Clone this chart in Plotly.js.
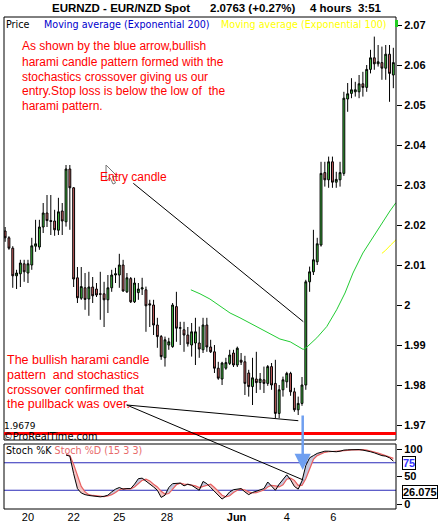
<!DOCTYPE html>
<html><head><meta charset="utf-8">
<script src="https://cdn.plot.ly/plotly-3.0.1.min.js"></script>
<style>html,body{margin:0;padding:0;background:#fff}#chart{width:440px;height:529px}</style>
</head><body><div id="chart"></div>
<script>
// ---- data ----
const candleOpen  = [2.0185,2.0168,2.0142,2.0073,2.0078,2.0103,2.0080,2.0100,2.0147,2.0145,2.0195,2.0230,2.0211,2.0210,2.0187,2.0235,2.0208,2.0340,2.0293,2.0068,2.0017,2.0043,2.0015,2.0045,2.0040,2.0028,2.0028,2.0013,2.0043,2.0075,2.0075,2.0100,2.0033,2.0066,2.0008,2.0031,2.0040,2.0038,2.0003,2.0000,1.9950,1.9921,1.9868,1.9900,1.9896,1.9996,1.9942,1.9938,1.9925,1.9900,1.9905,1.9905,1.9888,1.9950,1.9895,1.9883,1.9842,1.9815,1.9842,1.9854,1.9880,1.9850,1.9862,1.9858,1.9830,1.9796,1.9815,1.9806,1.9813,1.9804,1.9846,1.9804,1.9729,1.9788,1.9808,1.9829,1.9783,1.9738,1.9754,1.9800,2.0058,2.0083,2.0108,2.0150,2.0331,2.0313,2.0358,2.0307,2.0313,2.0329,2.0515,2.0529,2.0533,2.0533,2.0553,2.0544,2.0589,2.0618,2.0603,2.0606,2.0592,2.0627,2.0575];
const candleHigh  = [2.0195,2.0172,2.0147,2.0088,2.0113,2.0113,2.0113,2.0168,2.0213,2.0213,2.0255,2.0275,2.0275,2.0238,2.0268,2.0255,2.0350,2.0350,2.0295,2.0095,2.0095,2.0080,2.0083,2.0070,2.0055,2.0083,2.0058,2.0075,2.0088,2.0093,2.0128,2.0113,2.0080,2.0070,2.0068,2.0055,2.0068,2.0046,2.0013,2.0013,1.9968,1.9925,1.9921,1.9918,2.0005,2.0033,1.9958,1.9958,1.9945,1.9955,1.9968,1.9946,1.9968,1.9968,1.9913,1.9900,1.9858,1.9858,1.9868,1.9888,1.9888,1.9896,1.9880,1.9873,1.9838,1.9868,1.9883,1.9830,1.9846,1.9850,1.9855,1.9863,1.9800,1.9821,1.9833,1.9833,1.9793,1.9771,1.9820,2.0063,2.0096,2.0188,2.0168,2.0358,2.0358,2.0371,2.0371,2.0333,2.0358,2.0533,2.0555,2.0567,2.0558,2.0575,2.0583,2.0600,2.0638,2.0671,2.0650,2.0646,2.0650,2.0650,2.0643];
const candleLow   = [2.0158,2.0138,2.0043,2.0040,2.0045,2.0058,2.0055,2.0088,2.0133,2.0138,2.0180,2.0195,2.0175,2.0173,2.0175,2.0175,2.0196,2.0188,2.0045,2.0005,2.0013,1.9988,1.9973,2.0005,2.0020,1.9963,1.9945,1.9980,2.0033,2.0055,2.0043,2.0033,2.0030,2.0005,2.0005,2.0013,2.0025,1.9933,1.9945,1.9925,1.9893,1.9863,1.9846,1.9888,1.9893,1.9908,1.9900,1.9883,1.9896,1.9871,1.9850,1.9868,1.9880,1.9883,1.9880,1.9830,1.9813,1.9800,1.9838,1.9850,1.9845,1.9845,1.9850,1.9775,1.9771,1.9750,1.9780,1.9788,1.9780,1.9798,1.9788,1.9717,1.9717,1.9771,1.9793,1.9773,1.9733,1.9725,1.9748,1.9788,2.0033,2.0075,2.0100,2.0146,2.0296,2.0293,2.0293,2.0293,2.0296,2.0323,2.0483,2.0517,2.0521,2.0517,2.0521,2.0533,2.0579,2.0588,2.0596,2.0563,2.0563,2.0508,2.0542];
const candleClose = [2.0168,2.0142,2.0073,2.0080,2.0105,2.0083,2.0103,2.0148,2.0153,2.0195,2.0230,2.0211,2.0209,2.0188,2.0233,2.0210,2.0340,2.0293,2.0065,2.0018,2.0046,2.0014,2.0045,2.0023,2.0025,2.0027,2.0013,2.0043,2.0075,2.0078,2.0100,2.0035,2.0068,2.0008,2.0055,2.0040,2.0043,1.9998,2.0000,1.9950,1.9921,1.9871,1.9913,1.9908,2.0000,1.9942,1.9943,1.9925,1.9903,1.9933,1.9933,1.9890,1.9950,1.9895,1.9883,1.9842,1.9817,1.9855,1.9856,1.9875,1.9850,1.9892,1.9857,1.9804,1.9796,1.9818,1.9806,1.9815,1.9804,1.9846,1.9800,1.9729,1.9788,1.9813,1.9829,1.9783,1.9738,1.9754,1.9800,2.0058,2.0083,2.0113,2.0153,2.0329,2.0313,2.0358,2.0307,2.0314,2.0331,2.0517,2.0528,2.0538,2.0538,2.0553,2.0544,2.0589,2.0618,2.0603,2.0608,2.0592,2.0627,2.0579,2.0606];

const tickIdx    = [6, 18, 30, 42.5, 60.8, 74, 86.2];
const tickLabels = ['20', '22', '25', '28', '<b>Jun</b>', '4', '6'];
const priceTicks = [1.97,1.98,1.99,2.00,2.01,2.02,2.03,2.04,2.05,2.06,2.07];
const priceTickLabels = ['1.97','1.98','1.99','2','2.01','2.02','2.03','2.04','2.05','2.06','2.07'];

const emaIdx = [48.8,51.2,53.8,56.5,59.1,61.7,64.3,67.0,69.6,72.2,74.9,76.7,78.3,79.3,81.9,84.5,87.1,89.3,91.4,94.0,96.7,98.5,101.1,102.7];
const emaVal = [2.0038,2.0028,2.0015,1.9998,1.9980,1.9968,1.9955,1.9943,1.9930,1.9915,1.9908,1.9898,1.9889,1.9895,1.9918,1.9946,1.9988,2.0030,2.0080,2.0130,2.0171,2.0195,2.0235,2.0256];
const ema2Idx = [99.0, 100.0, 101.3, 102.7];
const ema2Val = [2.0129, 2.0137, 2.0150, 2.0163];

const stopLoss = 1.9679;

const stochStart = 16;
const stochK = [89,87,55,28,20,17,15.5,14.5,13,13,14,16,22,27,30,27,28,28,36,46,47,42,36,31,25,12,16,30,37,38,38,33,36,34,30,25,41,37,30,23,17,9,14,22,26,27,28,22,17,21,23,25,28,40,33,25,36,45,53,44,32,27,42,70,84,88,92,94,96,96,95,95,96,98,98.5,99,99,99,98,97,95,93,90,88,87,84,78];
const stochD = [90,88,72,50,32,22,17,15.5,14.5,13.5,13.5,14.5,17,21,26,28,28,27.5,31,37,43,45,42,36,31,23,18,19,28,35,38,36,35.5,34.5,33,30,32,34.5,36,30,23,16,13,15,21,25,27,25.5,22,20,20.5,23,25.5,31,34,33,31,35,45,47,43,34,34,46,65,81,88,91,94,95,95.5,95.5,95.5,96.5,97.5,98.5,99,99,98.7,98,96.7,95,92.7,90.3,88.3,86.3,83];
const stochLevels = [75, 25];
const stochTicks = [0, 50, 100];

// ---- layout helpers ----
const W = 440, H = 529, ML = 4, MR = 44, MT = 17, MB = 20;
const PX = x => (x - ML) / (W - ML - MR);
const PY = y => (H - MB - y) / (H - MT - MB);

const candleIdx = candleOpen.map((_, i) => i);
const stochIdx = stochK.map((_, i) => i + stochStart);
const hiKD = stochK.map((k, i) => Math.max(k, stochD[i]));
const loKD = stochK.map((k, i) => Math.min(k, stochD[i]));

const traces = [
  {type:'candlestick', x:candleIdx, open:candleOpen, high:candleHigh, low:candleLow, close:candleClose,
   xaxis:'x', yaxis:'y', whiskerwidth:0, hoverinfo:'none',
   increasing:{line:{color:'#000', width:1}, fillcolor:'#3fc43f'},
   decreasing:{line:{color:'#000', width:1}, fillcolor:'#d06464'}},
  {type:'scatter', mode:'lines', x:emaIdx, y:emaVal, xaxis:'x', yaxis:'y', line:{color:'#22cc33', width:1}, hoverinfo:'none'},
  {type:'scatter', mode:'lines', x:ema2Idx, y:ema2Val, xaxis:'x', yaxis:'y', line:{color:'#ffff00', width:1}, hoverinfo:'none'},
  {type:'scatter', mode:'lines', x:stochIdx, y:stochD, xaxis:'x', yaxis:'y2', line:{width:0, color:'rgba(0,0,0,0)'}, hoverinfo:'none'},
  {type:'scatter', mode:'lines', x:stochIdx, y:hiKD, xaxis:'x', yaxis:'y2', fill:'tonexty', fillcolor:'#c3c7dd', line:{width:0, color:'rgba(0,0,0,0)'}, hoverinfo:'none'},
  {type:'scatter', mode:'lines', x:stochIdx, y:stochD, xaxis:'x', yaxis:'y2', line:{width:0, color:'rgba(0,0,0,0)'}, hoverinfo:'none'},
  {type:'scatter', mode:'lines', x:stochIdx, y:loKD, xaxis:'x', yaxis:'y2', fill:'tonexty', fillcolor:'#f3c6c6', line:{width:0, color:'rgba(0,0,0,0)'}, hoverinfo:'none'},
  {type:'scatter', mode:'lines', x:stochIdx, y:stochD, xaxis:'x', yaxis:'y2', line:{color:'#e86060', width:1.2}, hoverinfo:'none'},
  {type:'scatter', mode:'lines', x:stochIdx, y:stochK, xaxis:'x', yaxis:'y2', line:{color:'#000', width:1}, hoverinfo:'none'}
];

const AR = "Liberation Sans, Arial, sans-serif";
const DV = "DejaVu Sans, Verdana, sans-serif";
function txt(text, x, y, font, extra) {
  return Object.assign({text:text, xref:'paper', yref:'paper', x:PX(x), y:PY(y), xanchor:'left', yanchor:'middle',
    showarrow:false, font:font, borderpad:0}, extra || {});
}
const red12 = {family:AR, size:12, color:'#ff0000'};
const red125 = {family:AR, size:12.5, color:'#ff0000'};
const titleFont = {family:AR, size:11.5, color:'#000', weight:'bold'};
const legFont = s => ({family:DV, size:9.6, color:s});

const annotations = [
  txt('<b>EURNZD - EUR/NZD Spot</b>', 120.5, 8.5, titleFont, {xanchor:'center'}),
  txt('<b>2.0763 (+0.27%)</b>', 253, 8.5, titleFont, {xanchor:'center'}),
  txt('<b>4 hours  3:51</b>', 346, 8.5, titleFont, {xanchor:'center'}),
  txt('Price', 5, 24, legFont('#000')),
  txt('Moving average (Exponential 200)', 43, 24, legFont('#0000cc')),
  txt('Moving average (Exponential 100)', 220, 24, legFont('#ffff00')),
  txt('As shown by the blue arrow,bullish', 21, 46, red12),
  txt('harami candle pattern formed with the', 21, 61.5, red12),
  txt('stochastics crossover giving us our', 21, 76.5, red12),
  txt('entry.Stop loss is below the low of  the', 21, 91.5, red12),
  txt('harami pattern.', 21, 106.5, red12),
  txt('Entry candle', 99, 177, red12),
  txt('The bullish harami candle', 6, 360, red125),
  txt('pattern  and stochastics', 6, 374.5, red125),
  txt('crossover confirmed that', 6, 389.5, red125),
  txt('the pullback was over.', 6, 404, red125),
  txt('1.9679', 3, 425.5, {family:DV, size:9, color:'#000'}),
  txt('©ProRealTime.com', 2, 436.5, {family:DV, size:9.8, color:'#000'}),
  txt('Stoch %K <span style="color:#e86a6a">Stoch %D (15 3 3)</span>', 5, 450.5, legFont('#000')),
  Object.assign(txt('<b>75</b>', 409, 462.7, {family:AR, size:11, color:'#3333ff'}),
    {xanchor:'center', bordercolor:'#000', borderwidth:1, bgcolor:'#fff', borderpad:0}),
  Object.assign(txt('<b>26.075</b>', 419.7, 492, {family:AR, size:11, color:'#000'}),
    {xanchor:'center', bordercolor:'#000', borderwidth:1, bgcolor:'#fff', borderpad:0}),
  {text:'', xref:'paper', yref:'paper', x:PX(302.7), y:PY(470), ax:0, ay:-56, axref:'pixel', ayref:'pixel',
   showarrow:true, arrowcolor:'#6f9ff0', arrowwidth:2.5, arrowhead:2, arrowsize:1.3}
];

function seg(x0, y0, x1, y1, color, width) {
  return {type:'line', xref:'paper', yref:'paper', x0:PX(x0), y0:PY(y0), x1:PX(x1), y1:PY(y1), line:{color:color, width:width}};
}
const shapes = [
  {type:'rect', xref:'paper', yref:'paper', x0:0, x1:1, y0:PY(440), y1:1, line:{color:'#000', width:1}},
  {type:'rect', xref:'paper', yref:'paper', x0:0, x1:1, y0:0, y1:PY(444), line:{color:'#000', width:1}},
  {type:'line', xref:'paper', x0:0, x1:1, yref:'y', y0:stopLoss, y1:stopLoss, line:{color:'#ff0000', width:3}},
  {type:'line', xref:'paper', x0:0, x1:1, yref:'y2', y0:stochLevels[0], y1:stochLevels[0], line:{color:'#2a2ab8', width:1}, layer:'below'},
  {type:'line', xref:'paper', x0:0, x1:1, yref:'y2', y0:stochLevels[1], y1:stochLevels[1], line:{color:'#2a2ab8', width:1}, layer:'below'},
  seg(133.3, 183.3, 303.3, 321.7, '#000', 1),
  seg(126.7, 405, 298.3, 420.7, '#000', 1),
  seg(126.7, 405, 303.3, 480, '#000', 1),
  seg(396.5, 20, 396.5, 27, '#22cc22', 3),
  {type:'path', xref:'paper', yref:'paper', fillcolor:'#ffffff', line:{color:'#777', width:1},
   path:'M' + [[106,165],[106,181],[110,177.5],[113,184],[115.5,183],[112.5,176.5],[117.5,176.5]].map(p => PX(p[0]) + ',' + PY(p[1])).join(' L') + ' Z'}
];

const layout = {
  width:W, height:H, margin:{l:ML, r:MR, t:MT, b:MB, pad:0},
  paper_bgcolor:'#fff', plot_bgcolor:'#fff', showlegend:false,
  xaxis:{domain:[0,1], range:[-0.3, 102.7], anchor:'y2', tickmode:'array', tickvals:tickIdx, ticktext:tickLabels,
    ticks:'', showgrid:false, zeroline:false, showline:false, rangeslider:{visible:false}, fixedrange:true,
    tickfont:{family:AR, size:11, color:'#000'}},
  yaxis:{domain:[PY(440), 1], range:[1.96625, 2.072], side:'right', anchor:'x', tickmode:'array',
    tickvals:priceTicks, ticktext:priceTickLabels, ticks:'outside', ticklen:5, tickcolor:'#000', tickwidth:1,
    showline:false, showgrid:false, zeroline:false, fixedrange:true,
    tickfont:{family:AR, size:11, color:'#000', weight:'bold'}},
  yaxis2:{domain:[0, PY(444)], range:[-9.1, 109.1], side:'right', anchor:'x', tickmode:'array',
    tickvals:stochTicks, ticks:'outside', ticklen:5, tickcolor:'#000', tickwidth:1,
    showline:false, showgrid:false, zeroline:false, fixedrange:true,
    tickfont:{family:AR, size:11, color:'#000', weight:'bold'}},
  annotations:annotations, shapes:shapes
};

Plotly.newPlot('chart', traces, layout, {staticPlot:true, displayModeBar:false});
</script>
</body></html>
